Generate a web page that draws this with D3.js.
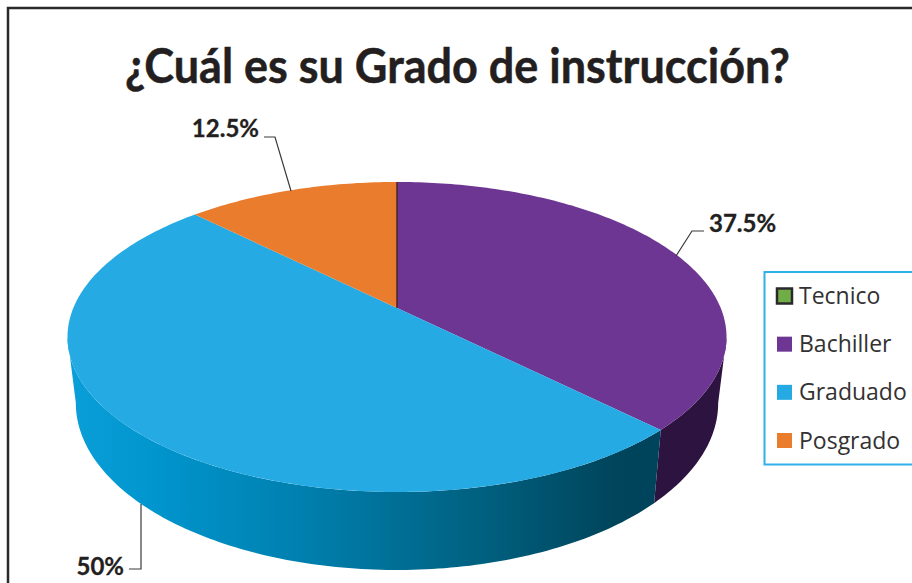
<!doctype html>
<html>

<head>
    <title>Grado de instruccion</title>
    <script src="https://cdnjs.cloudflare.com/ajax/libs/d3/7.8.5/d3.min.js"></script>
    <style>
        html, body { margin: 0; padding: 0; background: #fff; overflow: hidden; }
        svg { display: block; }
        .title { font-family: Lato, sans-serif; font-weight: 700; fill: #231f20; stroke: #231f20; stroke-width: 0.5px; }
        .pct { font-family: Lato, sans-serif; font-weight: 700; font-size: 24px; fill: #231f20; stroke: #231f20; stroke-width: 0.3px; }
        .legendText { font-family: "Open Sans", sans-serif; font-size: 23px; fill: #333132; }
    </style>
</head>

<body>
    <svg width="912" height="583"></svg>
    <script>
        var categories = ["Tecnico", "Bachiller", "Graduado", "Posgrado"];
        var values = [0, 37.5, 50, 12.5];
        var labels = ["", "37.5%", "50%", "12.5%"];
        var topColors = ["#70ad47", "#6d3692", "#25aae4", "#ea7c2e"];

        var svg = d3.select("svg");

        // frame runs off the right and bottom of the crop
        svg.append("rect").attr("x", 8).attr("y", 8).attr("width", 1000).attr("height", 800)
            .attr("fill", "none").attr("stroke", "#2b2a2b").attr("stroke-width", 2.5);

        svg.append("text").attr("class", "title")
            .attr("x", 125).attr("y", 83)
            .attr("textLength", 665).attr("lengthAdjust", "spacingAndGlyphs")
            .style("font-size", "47px")
            .text("¿Cuál es su Grado de instrucción?");

        // perspective of the disc: u,v on the unit circle to the page
        var persp = 0.187;
        function rim(angle, plane) {
            var u = Math.sin(angle), v = -Math.cos(angle), w = 1 - persp * v;
            return [397 + plane.rx * u / w, (plane.a * v + plane.b) / w];
        }
        var topPlane = { rx: 323.7, a: 92, b: 308 };
        var basePlane = { rx: 315.5, a: 91.5, b: 371.9 };

        // only this part of the rim faces the viewer
        var tangent = Math.acos(-persp);
        var frontStart = tangent, frontEnd = 2 * Math.PI - tangent;

        var pie = d3.pie().sort(null).value(function (d) { return d; });
        var arcs = pie(values);

        function sampleAngles(a0, a1) {
            var n = Math.max(2, Math.ceil((a1 - a0) * 60));
            return d3.range(n + 1).map(function (i) { return a0 + (a1 - a0) * i / n; });
        }
        var line = d3.line();

        var defs = svg.append("defs");
        var grad = defs.append("linearGradient").attr("id", "wallBlue")
            .attr("gradientUnits", "userSpaceOnUse")
            .attr("x1", 68).attr("x2", 660).attr("y1", 0).attr("y2", 0);
        [[0, "#0a9fd8"], [0.15, "#0095cd"], [0.4, "#007fae"], [0.7, "#00607f"], [0.92, "#00455c"], [1, "#00435c"]]
            .forEach(function (s) {
                grad.append("stop").attr("offset", s[0]).attr("stop-color", s[1]);
            });

        var wallFill = { 1: "#2d1340", 2: "url(#wallBlue)" };
        var pies = svg.append("g");

        // walls first, then the top disc
        arcs.forEach(function (d, i) {
            if (!wallFill[i]) return;
            var a = sampleAngles(Math.max(d.startAngle, frontStart), Math.min(d.endAngle, frontEnd));
            var pts = a.map(function (t) { return rim(t, topPlane); })
                .concat(a.slice().reverse().map(function (t) { return rim(t, basePlane); }));
            pies.append("path").attr("d", line(pts) + "Z").attr("fill", wallFill[i]);
        });

        var apex = [397, 308];
        arcs.forEach(function (d, i) {
            if (d.value === 0) return;
            var pts = [apex].concat(sampleAngles(d.startAngle, d.endAngle).map(function (t) { return rim(t, topPlane); }));
            pies.append("path").attr("d", line(pts) + "Z").attr("fill", topColors[i]);
        });

        // seam between orange and purple
        pies.append("path").attr("d", line([apex, rim(0, topPlane)]))
            .attr("stroke", "#4a2428").attr("stroke-width", 1.5).attr("fill", "none");

        // value labels and their leaders
        var leaders = [
            null,
            { pts: [[704, 231], [692, 231], [676, 256]], x: 709, y: 232, anchor: "start" },
            { pts: [[129, 569], [141, 569], [141, 504]], x: 124, y: 575, anchor: "end" },
            { pts: [[264, 137], [275, 137], [291, 191]], x: 259, y: 137, anchor: "end" }
        ];
        leaders.forEach(function (l, i) {
            if (!l) return;
            svg.append("path").attr("d", line(l.pts)).attr("fill", "none")
                .attr("stroke", "#3a3a3a").attr("stroke-width", 1.2);
            svg.append("text").attr("class", "pct")
                .attr("x", l.x).attr("y", l.y)
                .attr("text-anchor", l.anchor)
                .text(labels[i]);
        });

        // legend
        svg.append("rect").attr("x", 764.5).attr("y", 272).attr("width", 200).attr("height", 192.5)
            .attr("fill", "#fff").attr("stroke", "#2fb0e8").attr("stroke-width", 2);

        var legendY = d3.scalePoint().domain(categories).range([296, 440.5]);
        var legend = svg.selectAll(".legendRow").data(categories).enter().append("g")
            .attr("class", "legendRow")
            .attr("transform", function (d) { return "translate(777," + legendY(d) + ")"; });
        legend.append("rect").attr("x", 0).attr("y", -7.5).attr("width", 15).attr("height", 15)
            .attr("fill", function (d, i) { return topColors[i]; })
            .attr("stroke", function (d, i) { return values[i] === 0 ? "#2b2a2b" : "none"; })
            .attr("stroke-width", 2.5);
        legend.append("text").attr("class", "legendText")
            .attr("x", 22).attr("y", 0).attr("dy", "0.35em")
            .text(function (d) { return d; });
    </script>
</body>

</html>
